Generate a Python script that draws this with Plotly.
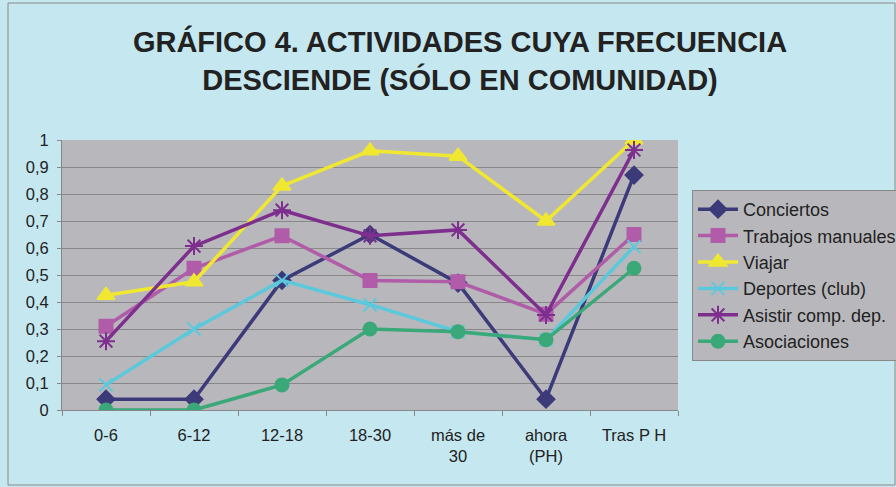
import plotly.graph_objects as go

categories = ["0-6", "6-12", "12-18", "18-30", "más de<br>30", "ahora<br>(PH)", "Tras P H"]
conciertos = [0.04, 0.04, 0.48, 0.65, 0.47, 0.04, 0.87]
trabajos = [0.31, 0.525, 0.645, 0.48, 0.475, 0.355, 0.65]
viajar = [0.425, 0.475, 0.83, 0.96, 0.94, 0.70, 1.0]
deportes = [0.093, 0.30, 0.48, 0.39, 0.29, 0.26, 0.605]
asistir = [0.255, 0.607, 0.74, 0.645, 0.667, 0.352, 0.963]
asociaciones = [0.0, 0.0, 0.093, 0.30, 0.29, 0.26, 0.525]
y_ticks = [0, 0.1, 0.2, 0.3, 0.4, 0.5, 0.6, 0.7, 0.8, 0.9, 1]

series = [
    ("Conciertos", conciertos, "#3D3A7A", "diamond", 13),
    ("Trabajos manuales", trabajos, "#B05CA8", "square", 13),
    ("Viajar", viajar, "#F0E830", "triangle-up", 15),
    ("Deportes (club)", deportes, "#5BC8DC", "x-thin-open", 13),
    ("Asistir comp. dep.", asistir, "#7E2F8E", "asterisk-open", 15),
    ("Asociaciones", asociaciones, "#3AA878", "circle", 13),
]

fig = go.Figure()
for name, vals, color, sym, size in series:
    fig.add_trace(go.Scatter(
        x=categories, y=vals, name=name, mode="lines+markers",
        line=dict(color=color, width=3.5),
        marker=dict(symbol=sym, size=size, color=color,
                    line=dict(color=color, width=2)),
    ))

L, R, T, B = 62, 218, 140, 77
PW, PH = 896 - L - R, 487 - T - B


def px_x(p):
    return (p - L) / PW


def px_y(p):
    return (487 - B - p) / PH


fig.update_layout(
    width=896, height=487,
    paper_bgcolor="#C5E7EF",
    plot_bgcolor="#B8B8BC",
    separators=",.",
    margin=dict(l=L, r=R, t=T, b=B, autoexpand=False),
    title=dict(
        text="<b>GRÁFICO 4. ACTIVIDADES CUYA FRECUENCIA<br>DESCIENDE (SÓLO EN COMUNIDAD)</b>",
        x=px_x(460), xref="paper", xanchor="center",
        y=1 - 52 / 487, yanchor="top",
        font=dict(family="Liberation Sans, Arial", size=29, color="#222222"),
    ),
    font=dict(family="Liberation Sans, Arial", size=16.5, color="#222222"),
    showlegend=True,
    legend=dict(
        x=px_x(692), y=px_y(190), xanchor="left", yanchor="top",
        bgcolor="#B8B8BC", bordercolor="#888888", borderwidth=1,
        font=dict(size=18, color="#222222"),
        tracegroupgap=0, itemwidth=40,
    ),
    shapes=[dict(type="rect", xref="paper", yref="paper",
                 x0=px_x(8), x1=px_x(895), y0=px_y(485), y1=px_y(3),
                 line=dict(color="#8A8A8A", width=1), fillcolor="rgba(0,0,0,0)")],
)
fig.update_xaxes(
    type="category", tickson="boundaries", ticks="outside", ticklen=5,
    tickcolor="#888888", showgrid=False, showline=True, linecolor="#888888",
    linewidth=1, tickfont=dict(size=16.5), range=[-0.5, 6.5],
    ticklabelstandoff=10,
)
fig.update_yaxes(
    range=[0, 1], tickvals=y_ticks, showgrid=True, gridcolor="#888888",
    gridwidth=1, showline=True, linecolor="#888888", linewidth=1,
    ticks="outside", ticklen=4, tickcolor="#888888", zeroline=False,
    tickfont=dict(size=16.5), ticklabelstandoff=5,
)
fig.write_html("out.html", config={"displayModeBar": False},
               post_script="document.body.style.margin='0';")
